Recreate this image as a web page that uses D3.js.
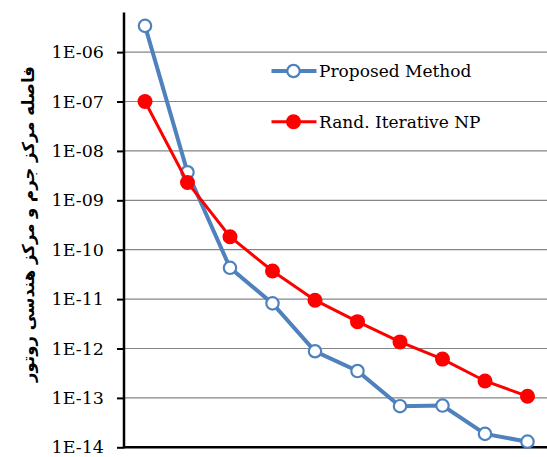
<!DOCTYPE html>
<html>
<head>
<meta charset="utf-8">
<script src="https://cdn.jsdelivr.net/npm/d3@7"></script>
<style>
  body { margin: 0; background: #fff; }
  svg { display: block; }
</style>
</head>
<body>
<div id="chart"></div>
<script>
var w = 547, h = 457;

// data
var steps = [1, 2, 3, 4, 5, 6, 7, 8, 9, 10];
var proposed = [3.4e-6, 3.7e-9, 4.3e-11, 8.2e-12, 8.8e-13, 3.5e-13, 6.8e-14, 7.0e-14, 1.87e-14, 1.3e-14];
var randNP = [1.0e-7, 2.3e-9, 1.83e-10, 3.7e-11, 9.5e-12, 3.5e-12, 1.36e-12, 6.1e-13, 2.2e-13, 1.08e-13];
var yTicks = [1e-6, 1e-7, 1e-8, 1e-9, 1e-10, 1e-11, 1e-12, 1e-13, 1e-14];
var seriesNames = ["Proposed Method", "Rand. Iterative NP"];
var yTitle = "فاصله مرکز جرم و مرکز هندسی روتور";

var plotLeft = 124, plotBottom = 447.3, plotTop = 12.6, plotRight = 548.75;
var serif = "'DejaVu Serif', serif";

var svg = d3.select("#chart")
            .append("svg")
            .attr("width", w)
            .attr("height", h);

var xScale = d3.scaleBand()
               .domain(steps)
               .range([plotLeft - 0.25, plotRight]);

var yScale = d3.scaleLog()
               .domain([1e-14, Math.pow(10, -5.2)])
               .range([plotBottom, plotTop]);

// gridlines
svg.append("g")
   .selectAll("line")
   .data(yTicks.filter(d => d > 1e-14))
   .enter()
   .append("line")
   .attr("x1", plotLeft)
   .attr("x2", w)
   .attr("y1", d => yScale(d))
   .attr("y2", d => yScale(d))
   .attr("stroke", "#868686")
   .attr("stroke-width", 1.2);

// y axis
var yAxis = d3.axisLeft(yScale)
              .tickValues(yTicks)
              .tickSize(7)
              .tickPadding(13)
              .tickFormat(d => "1E-" + String(-Math.round(Math.log10(d))).padStart(2, "0"));

var gy = svg.append("g")
   .attr("transform", "translate(" + plotLeft + ",0)")
   .call(yAxis);
gy.select(".domain").remove();
gy.selectAll(".tick line").attr("stroke", "#000").attr("stroke-width", 2);
gy.selectAll(".tick text")
  .attr("font-family", serif)
  .attr("font-size", 17.5)
  .attr("fill", "#000");

svg.append("line")
   .attr("x1", plotLeft).attr("x2", plotLeft)
   .attr("y1", plotTop).attr("y2", plotBottom + 1)
   .attr("stroke", "#000").attr("stroke-width", 2.5);
svg.append("line")
   .attr("x1", plotLeft).attr("x2", w)
   .attr("y1", plotBottom).attr("y2", plotBottom)
   .attr("stroke", "#000").attr("stroke-width", 2.5);

// y title
svg.append("text")
   .attr("transform", "translate(34," + 224 + ") rotate(-90)")
   .attr("text-anchor", "middle")
   .attr("font-family", "'DejaVu Sans', sans-serif")
   .attr("font-weight", "bold")
   .attr("font-size", 16.5)
   .attr("direction", "rtl")
   .text(yTitle);

var line = d3.line()
             .x((d, i) => xScale(steps[i]) + xScale.bandwidth() / 2)
             .y(d => yScale(d));

// blue series
svg.append("path")
   .datum(proposed)
   .attr("d", line)
   .attr("fill", "none")
   .attr("stroke", "#4f81bd")
   .attr("stroke-width", 4);
svg.append("g")
   .selectAll("circle")
   .data(proposed)
   .enter()
   .append("circle")
   .attr("cx", (d, i) => xScale(steps[i]) + xScale.bandwidth() / 2)
   .attr("cy", d => yScale(d))
   .attr("r", 6.2)
   .attr("fill", "#fff")
   .attr("stroke", "#4f81bd")
   .attr("stroke-width", 2.2);

// red series (drawn on top)
svg.append("path")
   .datum(randNP)
   .attr("d", line)
   .attr("fill", "none")
   .attr("stroke", "#ff0000")
   .attr("stroke-width", 3);
svg.append("g")
   .selectAll("circle")
   .data(randNP)
   .enter()
   .append("circle")
   .attr("cx", (d, i) => xScale(steps[i]) + xScale.bandwidth() / 2)
   .attr("cy", d => yScale(d))
   .attr("r", 7.5)
   .attr("fill", "#ff0000");

// legend
var legend = [
  {name: seriesNames[0], color: "#4f81bd", width: 4, fill: "#fff", r: 6.2, y: 71},
  {name: seriesNames[1], color: "#ff0000", width: 3, fill: "#ff0000", r: 7.5, y: 121.7}
];
var lg = svg.append("g")
            .selectAll("g")
            .data(legend)
            .enter()
            .append("g");
lg.append("rect")
  .attr("x", 268).attr("y", d => d.y - 13)
  .attr("width", 210).attr("height", 26)
  .attr("fill", "#fff");
lg.append("line")
  .attr("x1", 271.5).attr("x2", 316.5)
  .attr("y1", d => d.y).attr("y2", d => d.y)
  .attr("stroke", d => d.color)
  .attr("stroke-width", d => d.width);
lg.append("circle")
  .attr("cx", 293.5).attr("cy", d => d.y)
  .attr("r", d => d.r)
  .attr("fill", d => d.fill)
  .attr("stroke", d => d.fill === "#fff" ? d.color : "none")
  .attr("stroke-width", 2.2);
lg.append("text")
  .attr("x", 319)
  .attr("y", d => d.y + 6)
  .attr("font-family", serif)
  .attr("font-size", 17)
  .text(d => d.name);
</script>
</body>
</html>
